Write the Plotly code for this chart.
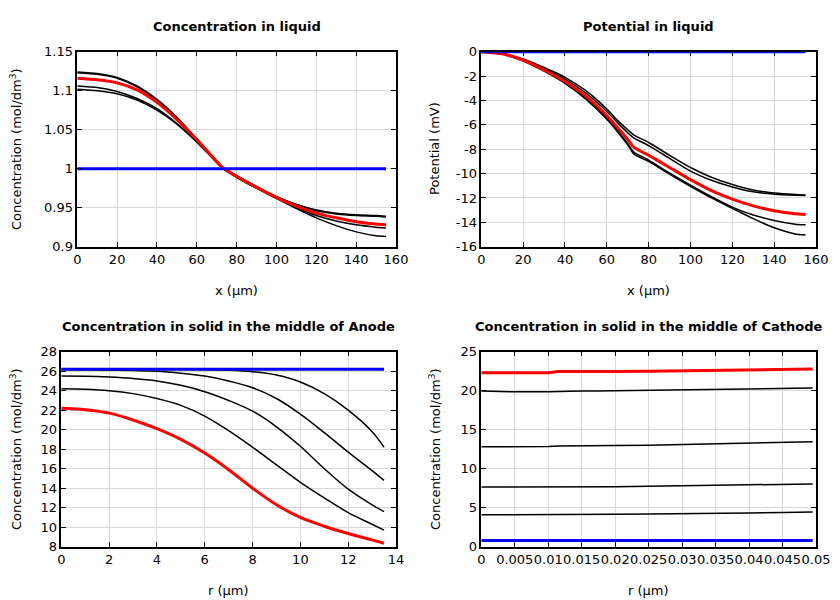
import plotly.graph_objects as go

# ---------------- Data ----------------
# Concentration in liquid (x in um)
liq_x = [0, 10, 20, 30, 40, 50, 60, 65, 70, 73, 80, 90, 100, 110, 120, 130, 140, 150, 155]
liq_init = [1.0] * len(liq_x)
liq_t1 = [1.124, 1.122, 1.117, 1.106, 1.089, 1.066, 1.038, 1.024, 1.010, 1.002, 0.991, 0.977, 0.964, 0.954, 0.947, 0.943, 0.941, 0.940, 0.939]
liq_t2 = [1.123, 1.121, 1.116, 1.105, 1.088, 1.065, 1.038, 1.024, 1.010, 1.002, 0.991, 0.977, 0.964, 0.954, 0.946, 0.942, 0.940, 0.939, 0.938]
liq_t3 = [1.106, 1.104, 1.099, 1.090, 1.077, 1.058, 1.035, 1.022, 1.008, 1.001, 0.989, 0.975, 0.962, 0.950, 0.940, 0.933, 0.928, 0.925, 0.924]
liq_t4 = [1.102, 1.100, 1.096, 1.088, 1.075, 1.057, 1.034, 1.021, 1.008, 1.001, 0.989, 0.975, 0.962, 0.949, 0.937, 0.927, 0.919, 0.914, 0.913]
liq_final = [1.116, 1.114, 1.110, 1.101, 1.085, 1.063, 1.037, 1.023, 1.009, 1.001, 0.990, 0.976, 0.963, 0.952, 0.943, 0.937, 0.932, 0.929, 0.928]

# Potential in liquid (mV)
pot_init = [0.0] * len(liq_x)
pot_t1 = [0, -0.15, -0.6, -1.3, -2.1, -3.2, -4.7, -5.6, -6.4, -6.85, -7.45, -8.5, -9.5, -10.3, -10.9, -11.35, -11.6, -11.72, -11.75]
pot_t2 = [0, -0.16, -0.65, -1.4, -2.25, -3.4, -4.9, -5.8, -6.65, -7.1, -7.7, -8.75, -9.8, -10.55, -11.1, -11.5, -11.7, -11.78, -11.8]
pot_t3 = [0, -0.18, -0.72, -1.55, -2.55, -3.8, -5.45, -6.45, -7.55, -8.25, -8.9, -9.95, -10.95, -11.9, -12.75, -13.4, -13.85, -14.15, -14.2]
pot_t4 = [0, -0.18, -0.74, -1.6, -2.6, -3.9, -5.55, -6.55, -7.65, -8.4, -9.0, -10.05, -11.05, -12.0, -12.85, -13.7, -14.45, -14.95, -15.05]
pot_final = [0, -0.17, -0.7, -1.5, -2.45, -3.65, -5.25, -6.2, -7.2, -7.85, -8.5, -9.5, -10.5, -11.4, -12.1, -12.65, -13.05, -13.3, -13.35]

# Concentration in solid, anode (r in um)
an_r = [0, 1, 2, 3, 4, 5, 6, 7, 8, 9, 10, 11, 12, 13, 13.5]
an_init = [26.2] * len(an_r)
an_t1 = [26.2, 26.2, 26.2, 26.2, 26.2, 26.18, 26.15, 26.1, 25.95, 25.6, 24.9, 23.7, 22.0, 19.8, 18.2]
an_t2 = [26.15, 26.14, 26.1, 26.06, 26.0, 25.8, 25.5, 25.0, 24.3, 23.2, 21.6, 19.7, 17.7, 15.8, 14.8]
an_t3 = [25.5, 25.48, 25.4, 25.25, 25.0, 24.55, 23.9, 23.0, 21.9, 20.3, 18.3, 16.0, 13.9, 12.3, 11.6]
an_t4 = [24.2, 24.15, 24.0, 23.7, 23.2, 22.5, 21.4, 19.9, 18.2, 16.4, 14.6, 13.0, 11.5, 10.3, 9.7]
an_final = [22.2, 22.05, 21.7, 21.0, 20.1, 19.0, 17.6, 15.9, 14.0, 12.3, 11.0, 10.1, 9.35, 8.7, 8.35]

# Concentration in solid, cathode (r in um)
ca_r = [0, 0.005, 0.01, 0.0115, 0.013, 0.015, 0.017, 0.02, 0.025, 0.03, 0.035, 0.04, 0.045, 0.0495]
ca_init = [0.8] * len(ca_r)
ca_t1 = [19.95, 19.85, 19.85, 19.9, 19.9, 19.95, 19.95, 19.98, 20.02, 20.08, 20.15, 20.22, 20.3, 20.35]
ca_t2 = [12.8, 12.8, 12.85, 12.9, 12.9, 12.92, 12.95, 12.97, 13.02, 13.1, 13.2, 13.3, 13.4, 13.45]
ca_t3 = [7.65, 7.65, 7.65, 7.65, 7.65, 7.7, 7.68, 7.7, 7.75, 7.8, 7.85, 7.9, 8.0, 8.05]
ca_t4 = [4.1, 4.1, 4.1, 4.1, 4.15, 4.1, 4.18, 4.15, 4.2, 4.22, 4.28, 4.33, 4.4, 4.45]
ca_final = [22.3, 22.3, 22.3, 22.45, 22.45, 22.4, 22.45, 22.45, 22.5, 22.55, 22.6, 22.65, 22.72, 22.78]

# Tick labels
liq_xticks = [0, 20, 40, 60, 80, 100, 120, 140, 160]
liq_yticks = [0.9, 0.95, 1.0, 1.05, 1.1, 1.15]
liq_ylabels = ["0.9", "0.95", "1", "1.05", "1.1", "1.15"]
pot_yticks = [0, -2, -4, -6, -8, -10, -12, -14, -16]
pot_ylabels = ["0", "-2", "-4", "-6", "-8", "-10", "-12", "-14", "-16"]
an_xticks = [0, 2, 4, 6, 8, 10, 12, 14]
an_yticks = [8, 10, 12, 14, 16, 18, 20, 22, 24, 26, 28]
ca_xticks = [0, 0.005, 0.01, 0.015, 0.02, 0.025, 0.03, 0.035, 0.04, 0.045, 0.05]
ca_xlabels = ["0", "0.005", "0.01", "0.015", "0.02", "0.025", "0.03", "0.035", "0.04", "0.045", "0.05"]
ca_yticks = [0, 5, 10, 15, 20, 25]

titles = ["Concentration in liquid", "Potential in liquid",
          "Concentration in solid in the middle of Anode",
          "Concentration in solid in the middle of Cathode"]

# ---------------- Figure ----------------
BLACK = "#000000"
RED = "#ff0000"
BLUE = "#0000ff"
FONT = "DejaVu Sans"

fig = go.Figure()

def add_set(x, init, blacks, final, xa, ya, shape="spline", sm=1.0):
    for b in blacks:
        fig.add_trace(go.Scatter(x=x, y=b, mode="lines", xaxis=xa, yaxis=ya,
                                 line=dict(color=BLACK, width=1.5, shape=shape, smoothing=sm),
                                 showlegend=False, hoverinfo="skip"))
    fig.add_trace(go.Scatter(x=x, y=final, mode="lines", xaxis=xa, yaxis=ya,
                             line=dict(color=RED, width=3, shape=shape, smoothing=sm),
                             showlegend=False, hoverinfo="skip"))
    fig.add_trace(go.Scatter(x=x, y=init, mode="lines", xaxis=xa, yaxis=ya,
                             line=dict(color=BLUE, width=3),
                             showlegend=False, hoverinfo="skip"))

add_set(liq_x, liq_init, [liq_t1, liq_t2, liq_t3, liq_t4], liq_final, "x", "y", sm=0.6)
add_set(liq_x, pot_init, [pot_t1, pot_t2, pot_t3, pot_t4], pot_final, "x2", "y2", sm=0.5)
add_set(an_r, an_init, [an_t1, an_t2, an_t3, an_t4], an_final, "x3", "y3", sm=1.0)
add_set(ca_r, ca_init, [ca_t1, ca_t2, ca_t3, ca_t4], ca_final, "x4", "y4", shape="linear")

W, H = 840, 600
OFF = 8  # page body margin offset
def dx(px):
    return (px - OFF) / W
def dy(py):
    return 1 - (py - OFF) / H

axis_common = dict(showline=True, linecolor="black", linewidth=1.5, mirror="allticks",
                   ticks="inside", ticklen=5, tickwidth=1, tickcolor="black",
                   showgrid=True, gridcolor="#d9d9d9", gridwidth=1, zeroline=False,
                   automargin=False,
                   tickfont=dict(family=FONT, size=13, color="black"), tickangle=0)

top_y = [dy(246.7), dy(51.7)]
bot_y = [dy(546.7), dy(351.7)]

fig.update_layout(
    width=W, height=H, margin=dict(l=0, r=0, t=0, b=0, pad=0, autoexpand=False),
    paper_bgcolor="white", plot_bgcolor="white", showlegend=False,
    font=dict(family=FONT, size=13, color="black"),
    xaxis=dict(domain=[dx(77.3), dx(396)], range=[0, 160], anchor="y",
               tickvals=liq_xticks, **axis_common),
    yaxis=dict(domain=top_y, range=[0.9, 1.15], anchor="x",
               tickvals=liq_yticks, ticktext=liq_ylabels, **axis_common),
    xaxis2=dict(domain=[dx(481.3), dx(816)], range=[0, 160], anchor="y2",
                tickvals=liq_xticks, **axis_common),
    yaxis2=dict(domain=top_y, range=[-16, 0], anchor="x2",
                tickvals=pot_yticks, ticktext=pot_ylabels, **axis_common),
    xaxis3=dict(domain=[dx(61.3), dx(396)], range=[0, 14], anchor="y3",
                tickvals=an_xticks, **axis_common),
    yaxis3=dict(domain=bot_y, range=[8, 28], anchor="x3",
                tickvals=an_yticks, **axis_common),
    xaxis4=dict(domain=[dx(481.3), dx(816)], range=[0, 0.05], anchor="y4",
                tickvals=ca_xticks, ticktext=ca_xlabels, **axis_common),
    yaxis4=dict(domain=bot_y, range=[0, 25], anchor="x4",
                tickvals=ca_yticks, **axis_common),
)

ann = []
title_pos = [((77.3 + 396) / 2, 26), ((481.3 + 816) / 2, 26),
             ((61.3 + 396) / 2, 326), ((481.3 + 816) / 2, 326)]
for t, (cx, cy) in zip(titles, title_pos):
    ann.append(dict(text="<b>" + t + "</b>", x=dx(cx), y=dy(cy), xref="paper", yref="paper",
                    showarrow=False, xanchor="center", yanchor="middle",
                    font=dict(family=FONT, size=13, color="black")))

xlab = [("x (µm)", (77.3 + 396) / 2, 290), ("x (µm)", (481.3 + 816) / 2, 290),
        ("r (µm)", (61.3 + 396) / 2, 590), ("r (µm)", (481.3 + 816) / 2, 590)]
for t, cx, cy in xlab:
    ann.append(dict(text=t, x=dx(cx), y=dy(cy), xref="paper", yref="paper",
                    showarrow=False, xanchor="center", yanchor="middle",
                    font=dict(family=FONT, size=13, color="black")))

ylab = [("Concentration (mol/dm<sup>3</sup>)", 16, 149), ("Potential (mV)", 434, 149),
        ("Concentration (mol/dm<sup>3</sup>)", 16, 449), ("Concentration (mol/dm<sup>3</sup>)", 435, 449)]
for t, cx, cy in ylab:
    ann.append(dict(text=t, x=dx(cx), y=dy(cy), xref="paper", yref="paper",
                    showarrow=False, xanchor="center", yanchor="middle", textangle=-90,
                    font=dict(family=FONT, size=13, color="black")))

fig.update_layout(annotations=ann)
fig.write_html("out.html")
